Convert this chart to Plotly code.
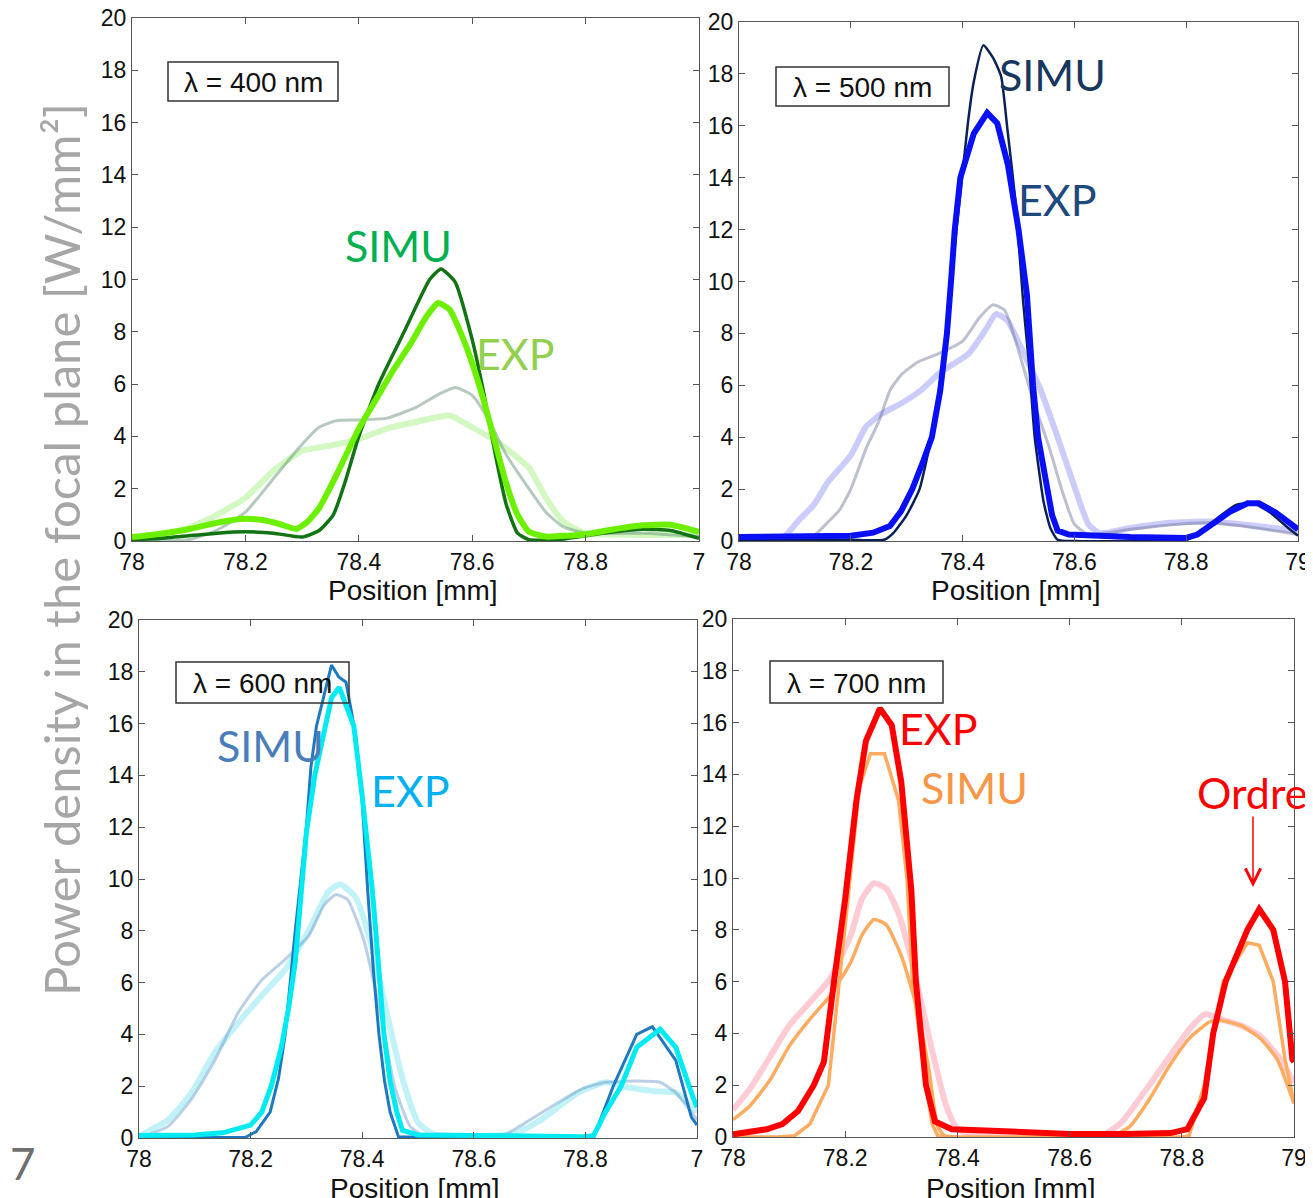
import plotly.graph_objects as go

# The page body adds an 8 px margin, so the figure is 8 px smaller than the window
# and every reference pixel position is shifted by that offset.
OFF = 8
W, H = 1313 - OFF, 1198 - OFF


def fx(p):
    return (p - OFF) / W


def fy(p):
    return 1 - (p - OFF) / H


# ---------------- data ----------------
x_ticks = [78.0, 78.2, 78.4, 78.6, 78.8, 79.0]
x_labels = ["78", "78.2", "78.4", "78.6", "78.8", "79"]
x_labels_cut = ["78", "78.2", "78.4", "78.6", "78.8", "7"]
y_ticks = [0, 2, 4, 6, 8, 10, 12, 14, 16, 18, 20]
wavelength_labels = ["λ = 400 nm", "λ = 500 nm", "λ = 600 nm", "λ = 700 nm"]
x_title = "Position [mm]"

# 400 nm
simu400_x = [78.0, 78.05, 78.1, 78.15, 78.2, 78.25, 78.3, 78.33, 78.355, 78.375, 78.4, 78.435, 78.48, 78.525, 78.545,
             78.57, 78.6, 78.62, 78.64, 78.66, 78.68, 78.7, 78.75, 78.8, 78.85, 78.9, 78.95, 79.0]
simu400_y = [0.05, 0.1, 0.2, 0.3, 0.35, 0.3, 0.15, 0.4, 1.0, 2.2, 4.0, 6.0, 8.0, 10.0, 10.4,
             9.9, 7.7, 5.7, 3.4, 1.4, 0.3, 0.05, 0.05, 0.2, 0.35, 0.45, 0.4, 0.1]
exp400_x = [78.0, 78.05, 78.1, 78.15, 78.2, 78.23, 78.26, 78.29, 78.31, 78.33, 78.36, 78.4, 78.43, 78.46, 78.49,
            78.52, 78.54, 78.56, 78.58, 78.6, 78.62, 78.64, 78.66, 78.68, 78.7, 78.73, 78.8, 78.85, 78.9, 78.95, 79.0]
exp400_y = [0.15, 0.28, 0.45, 0.7, 0.85, 0.8, 0.65, 0.46, 0.75, 1.26, 2.5, 4.3, 5.4, 6.5, 7.5,
            8.6, 9.1, 8.85, 7.95, 6.8, 5.4, 3.8, 2.2, 1.0, 0.36, 0.17, 0.26, 0.45, 0.6, 0.62, 0.35]
gray400_x = [78.0, 78.1, 78.15, 78.2, 78.25, 78.3, 78.33, 78.36, 78.4, 78.45, 78.5, 78.54, 78.57, 78.6, 78.63,
             78.66, 78.7, 78.73, 78.76, 78.8, 78.9, 79.0]
gray400_y = [0.0, 0.05, 0.42, 1.1, 2.4, 3.7, 4.35, 4.6, 4.63, 4.7, 5.1, 5.6, 5.87, 5.57, 4.6,
             3.3, 2.0, 1.1, 0.55, 0.3, 0.3, 0.17]
light400_x = [78.0, 78.05, 78.1, 78.15, 78.2, 78.25, 78.3, 78.35, 78.4, 78.45, 78.5, 78.56, 78.6, 78.65, 78.7,
              78.73, 78.76, 78.8, 78.9, 79.0]
light400_y = [0.1, 0.2, 0.5, 1.0, 1.65, 2.7, 3.45, 3.65, 3.9, 4.3, 4.55, 4.8, 4.35, 3.7, 2.8,
              1.65, 0.75, 0.3, 0.23, 0.23]

# 500 nm
simu500_x = [78.0, 78.1, 78.2, 78.26, 78.276, 78.3, 78.323, 78.344, 78.36, 78.375, 78.39, 78.4, 78.41, 78.42,
             78.437, 78.455, 78.469, 78.48, 78.495, 78.508, 78.52, 78.529, 78.545, 78.557, 78.57, 78.6, 78.7,
             78.8, 78.83, 78.86, 78.89, 78.92, 78.95, 78.98, 79.0]
simu500_y = [0.05, 0.05, 0.05, 0.05, 0.3, 1.0, 2.0, 4.0, 6.2, 9.0, 12.2, 14.2, 16.2, 17.7,
             19.1, 18.6, 17.9, 15.9, 13.0, 9.3, 6.5, 4.0, 1.5, 0.5, 0.05, 0.0, 0.0,
             0.05, 0.4, 0.95, 1.4, 1.45, 1.1, 0.55, 0.2]
exp500_x = [78.0, 78.1, 78.2, 78.24, 78.27, 78.29, 78.31, 78.33, 78.345, 78.36, 78.372, 78.38, 78.386, 78.396,
            78.42, 78.444, 78.462, 78.481, 78.5, 78.515, 78.526, 78.535, 78.55, 78.56, 78.57, 78.59, 78.7,
            78.8, 78.82, 78.85, 78.88, 78.91, 78.93, 78.96, 79.0]
exp500_y = [0.15, 0.15, 0.2, 0.32, 0.58, 1.15, 2.0, 3.1, 4.0, 5.8, 8.0, 10.2, 12.0, 14.0,
            15.7, 16.5, 16.1, 14.5, 12.0, 9.5, 6.0, 4.0, 2.0, 1.0, 0.4, 0.25, 0.15,
            0.12, 0.25, 0.7, 1.15, 1.45, 1.45, 1.1, 0.45]
gray500_x = [78.0, 78.127, 78.16, 78.18, 78.2, 78.228, 78.25, 78.27, 78.29, 78.32, 78.355, 78.4, 78.43, 78.454,
             78.475, 78.495, 78.525, 78.555, 78.58, 78.6, 78.625, 78.7, 78.77, 78.84, 78.91, 79.0]
gray500_y = [0.1, 0.1, 0.75, 1.2, 2.0, 3.6, 4.6, 5.8, 6.4, 6.9, 7.2, 7.7, 8.6, 9.1,
             8.9, 7.7, 5.5, 3.6, 1.8, 0.65, 0.25, 0.45, 0.62, 0.7, 0.55, 0.25]
light500_x = [78.0, 78.077, 78.105, 78.134, 78.16, 78.2, 78.227, 78.255, 78.29, 78.325, 78.36, 78.41, 78.44,
              78.46, 78.48, 78.51, 78.54, 78.57, 78.6, 78.625, 78.645, 78.7, 78.77, 78.84, 78.91, 79.0]
light500_y = [0.1, 0.1, 0.75, 1.4, 2.3, 3.3, 4.4, 4.9, 5.3, 5.8, 6.5, 7.2, 8.1,
              8.75, 8.5, 7.2, 5.8, 4.0, 2.1, 0.65, 0.3, 0.5, 0.7, 0.75, 0.62, 0.38]

# 600 nm
simu600_x = [78.0, 78.1, 78.19, 78.21, 78.235, 78.25, 78.262, 78.28, 78.3, 78.308, 78.318, 78.345, 78.358, 78.371,
             78.388, 78.4, 78.41, 78.42, 78.43, 78.44, 78.45, 78.465, 78.6, 78.8, 78.815, 78.85, 78.892, 78.92,
             78.962, 78.99, 79.0]
simu600_y = [0.02, 0.02, 0.02, 0.25, 1.0, 2.3, 4.0, 8.0, 12.0, 14.3, 15.9, 18.26, 17.8, 17.6,
             15.6, 13.0, 9.5, 6.5, 4.0, 2.2, 1.0, 0.05, 0.02, 0.02, 0.05, 2.0, 4.0, 4.3,
             3.0, 0.8, 0.5]
exp600_x = [78.0, 78.1, 78.15, 78.2, 78.22, 78.237, 78.255, 78.268, 78.28, 78.29, 78.3, 78.315, 78.329, 78.345,
            78.359, 78.37, 78.385, 78.4, 78.418, 78.428, 78.439, 78.45, 78.462, 78.472, 78.5, 78.6, 78.7, 78.8,
            78.815, 78.836, 78.864, 78.892, 78.934, 78.962, 78.994, 79.0]
exp600_y = [0.1, 0.12, 0.2, 0.5, 1.0, 2.0, 3.5, 5.0, 6.8, 9.5, 11.8, 14.0, 15.4, 17.0,
            17.4, 16.8, 15.9, 13.2, 9.6, 7.0, 4.0, 2.2, 1.0, 0.3, 0.12, 0.1, 0.08, 0.05,
            0.1, 1.0, 2.0, 3.5, 4.2, 3.5, 1.5, 1.2]
gray600_x = [78.0, 78.052, 78.094, 78.136, 78.178, 78.22, 78.262, 78.304, 78.332, 78.353, 78.374, 78.402, 78.43,
             78.458, 78.486, 78.514, 78.647, 78.682, 78.738, 78.794, 78.836, 78.892, 78.934, 78.962, 79.0]
gray600_y = [0.0, 0.45, 1.5, 3.0, 4.85, 6.1, 6.9, 7.8, 9.0, 9.4, 9.2, 7.7, 5.1,
             2.0, 0.45, 0.05, 0.05, 0.45, 1.2, 1.9, 2.15, 2.2, 2.15, 1.75, 0.7]
light600_x = [78.0, 78.052, 78.094, 78.136, 78.178, 78.22, 78.262, 78.304, 78.339, 78.36, 78.388, 78.416, 78.444,
              78.472, 78.5, 78.528, 78.67, 78.72, 78.787, 78.836, 78.878, 78.927, 78.962, 79.0]
light600_y = [0.06, 0.7, 1.75, 3.3, 4.45, 5.5, 6.5, 8.0, 9.5, 9.8, 9.3, 7.5, 4.85,
              2.3, 0.6, 0.15, 0.15, 0.7, 1.75, 2.15, 1.95, 1.8, 1.75, 1.0]

# 700 nm
exp700_x = [78.0, 78.03, 78.06, 78.088, 78.116, 78.144, 78.162, 78.18, 78.2, 78.22, 78.237, 78.262, 78.283, 78.3,
            78.318, 78.326, 78.344, 78.36, 78.39, 78.45, 78.5, 78.6, 78.7, 78.78, 78.81, 78.84, 78.856, 78.878,
            78.917, 78.938, 78.963, 78.984, 78.997, 79.0]
exp700_y = [0.1, 0.2, 0.3, 0.5, 1.0, 2.0, 2.9, 6.0, 9.2, 13.0, 15.3, 16.55, 15.9, 13.7,
            9.5, 6.0, 2.0, 0.6, 0.3, 0.25, 0.2, 0.12, 0.12, 0.15, 0.3, 1.5, 4.0, 6.0,
            8.0, 8.8, 8.0, 6.0, 3.0, 2.9]
simu700_x = [78.0, 78.08, 78.11, 78.137, 78.17, 78.19, 78.205, 78.225, 78.245, 78.27, 78.295, 78.31, 78.32,
             78.344, 78.355, 78.365, 78.4, 78.8, 78.813, 78.84, 78.856, 78.874, 78.917, 78.938, 78.963, 78.984, 79.0]
simu700_y = [0.0, 0.0, 0.05, 0.5, 2.0, 6.0, 9.2, 13.5, 14.8, 14.8, 13.0, 10.0, 6.0,
             2.0, 0.5, 0.05, 0.0, 0.0, 0.05, 2.0, 4.0, 6.0, 7.5, 7.4, 6.0, 3.0, 1.3]
broad700_x = [78.0, 78.03, 78.066, 78.1, 78.137, 78.173, 78.21, 78.23, 78.251, 78.273, 78.3, 78.33, 78.35, 78.365,
              78.38, 78.671, 78.707, 78.742, 78.778, 78.813, 78.85, 78.87, 78.906, 78.94, 78.97, 79.0]
broad700_y = [0.67, 1.2, 2.2, 3.5, 4.55, 5.45, 6.75, 7.8, 8.4, 8.2, 7.0, 4.8, 2.5, 0.4,
              0.0, 0.0, 0.4, 1.45, 2.75, 3.8, 4.45, 4.5, 4.3, 3.8, 3.0, 1.3]
pink700_x = [78.0, 78.03, 78.066, 78.1, 78.137, 78.173, 78.21, 78.23, 78.251, 78.273, 78.294, 78.322, 78.35, 78.38,
             78.4, 78.436, 78.657, 78.692, 78.742, 78.778, 78.813, 78.842, 78.87, 78.906, 78.94, 78.976, 79.0]
pink700_y = [1.05, 1.85, 3.1, 4.3, 5.2, 6.1, 7.8, 9.2, 9.8, 9.6, 8.7, 6.5, 3.8, 1.2,
             0.3, 0.05, 0.05, 0.55, 2.0, 3.1, 4.15, 4.75, 4.55, 4.3, 3.9, 3.0, 2.1]

# ---------------- layout geometry (reference pixels) ----------------
panels = [
    dict(x0=132, x1=699, y0=18, y1=541, cut=True, title_y=590),
    dict(x0=739, x1=1298, y0=22, y1=541, cut=False, title_y=590),
    dict(x0=139, x1=697, y0=620, y1=1138, cut=True, title_y=1188),
    dict(x0=733, x1=1294, y0=619, y1=1137, cut=False, title_y=1188),
]

fig = go.Figure()


def add(idx, xs, ys, color, width, opacity=1.0, shape="spline"):
    sfx = "" if idx == 1 else str(idx)
    fig.add_trace(go.Scatter(
        x=xs, y=ys, mode="lines", xaxis="x" + sfx, yaxis="y" + sfx,
        line=dict(color=color, width=width, shape=shape, smoothing=0.5),
        opacity=opacity, hoverinfo="skip", showlegend=False))


# 400
add(1, light400_x, light400_y, "#9ef07a", 6, 0.45)
add(1, gray400_x, gray400_y, "#5f8a70", 3, 0.45)
add(1, simu400_x, simu400_y, "#127312", 3.5)
add(1, exp400_x, exp400_y, "#6cf000", 6)
# 500
add(2, light500_x, light500_y, "#7070f5", 6, 0.35)
add(2, gray500_x, gray500_y, "#6d7597", 3, 0.45)
add(2, simu500_x, simu500_y, "#0c2058", 2.5)
add(2, exp500_x, exp500_y, "#0a10f5", 6, 1.0, "linear")
# 600
add(3, light600_x, light600_y, "#66e0f0", 6, 0.4)
add(3, gray600_x, gray600_y, "#6a98c8", 3, 0.45)
add(3, simu600_x, simu600_y, "#1f78c0", 3, 1.0, "linear")
add(3, exp600_x, exp600_y, "#00eaf2", 5, 1.0, "linear")
# 700
add(4, pink700_x, pink700_y, "#ff7088", 6, 0.35)
add(4, broad700_x, broad700_y, "#ffab60", 3.5)
add(4, simu700_x, simu700_y, "#ffab60", 3.5, 1.0, "linear")
add(4, exp700_x, exp700_y, "#ff0000", 6, 1.0, "linear")

axis_font = dict(family="Liberation Sans, Arial, sans-serif", size=23, color="#111111")
title_font = dict(family="Liberation Sans, Arial, sans-serif", size=28, color="#111111")
layout = {}
annotations = []
for i, p in enumerate(panels, start=1):
    sfx = "" if i == 1 else str(i)
    layout["xaxis" + sfx] = dict(
        domain=[fx(p["x0"]), fx(p["x1"])], anchor="y" + sfx, range=[78, 79],
        tickvals=x_ticks, ticktext=x_labels_cut if p["cut"] else x_labels,
        ticks="inside", ticklen=6, tickcolor="#555", showline=True, linecolor="#555", linewidth=1.3,
        mirror="ticks", showgrid=False, zeroline=False, tickfont=axis_font, ticklabeloverflow="allow")
    layout["yaxis" + sfx] = dict(
        domain=[fy(p["y1"]), fy(p["y0"])], anchor="x" + sfx, range=[0, 20],
        tickvals=y_ticks, ticks="inside", ticklen=6, tickcolor="#555", showline=True, linecolor="#555",
        linewidth=1.3, mirror="ticks", showgrid=False, zeroline=False, tickfont=axis_font,
        ticklabeloverflow="allow")
    # x-axis title, placed at the reference position under each panel
    annotations.append(dict(text=x_title, x=fx((p["x0"] + p["x1"]) / 2 - 3), y=fy(p["title_y"]),
                            xref="paper", yref="paper", showarrow=False, xanchor="center", yanchor="middle",
                            font=title_font))

boxes = [(168, 62, 338, 101), (776, 67, 949, 106), (176, 662, 349, 703), (770, 661, 943, 703)]
shapes = []
for (bx0, by0, bx1, by1), lab in zip(boxes, wavelength_labels):
    shapes.append(dict(type="rect", xref="paper", yref="paper", x0=fx(bx0), x1=fx(bx1), y0=fy(by1), y1=fy(by0),
                       line=dict(color="#333333", width=1.5), fillcolor="rgba(0,0,0,0)"))
    annotations.append(dict(text=lab, x=fx((bx0 + bx1) / 2), y=fy((by0 + by1) / 2 + 1), xref="paper", yref="paper",
                            showarrow=False, xanchor="center", yanchor="middle",
                            font=dict(family="Liberation Sans, Arial, sans-serif", size=28, color="#111")))

label_font = "Lato, Open Sans, sans-serif"
tags = [
    ("SIMU", 398, 246, "#00b050"), ("EXP", 515, 353, "#92d050"),
    ("SIMU", 1052, 74, "#17375e"), ("EXP", 1057, 200, "#1f497d"),
    ("SIMU", 270, 745, "#4a7ebb"), ("EXP", 410, 790, "#00b0f0"),
    ("EXP", 938, 728, "#ff0000"), ("SIMU", 974, 787, "#f79646"),
    ("Ordre", 1252, 792, "#ff0000"),
]
for t, x, y, c in tags:
    annotations.append(dict(text=t, x=fx(x), y=fy(y), xref="paper", yref="paper", showarrow=False,
                            xanchor="center", yanchor="middle", font=dict(family=label_font, size=43, color=c)))

annotations.append(dict(text="", x=fx(1253), y=fy(887), xref="paper", yref="paper", showarrow=True,
                        ax=0, ay=-72, arrowhead=5, arrowsize=2, arrowwidth=1.5, arrowcolor="#ff0000"))
annotations.append(dict(text="Power density in the focal plane [W/mm²]", x=fx(61), y=fy(550),
                        xref="paper", yref="paper", showarrow=False, textangle=-90,
                        xanchor="center", yanchor="middle",
                        font=dict(family=label_font, size=49, color="#a6a6a6")))
annotations.append(dict(text="7", x=0, y=fy(1163), xref="paper", yref="paper", showarrow=False,
                        xanchor="left", yanchor="middle",
                        font=dict(family=label_font, size=44, color="#6f6f6f")))

fig.update_layout(width=W, height=H, margin=dict(l=0, r=0, t=0, b=0, autoexpand=False), paper_bgcolor="white",
                  plot_bgcolor="white", showlegend=False, shapes=shapes, annotations=annotations, **layout)

fig.write_html("out.html")
